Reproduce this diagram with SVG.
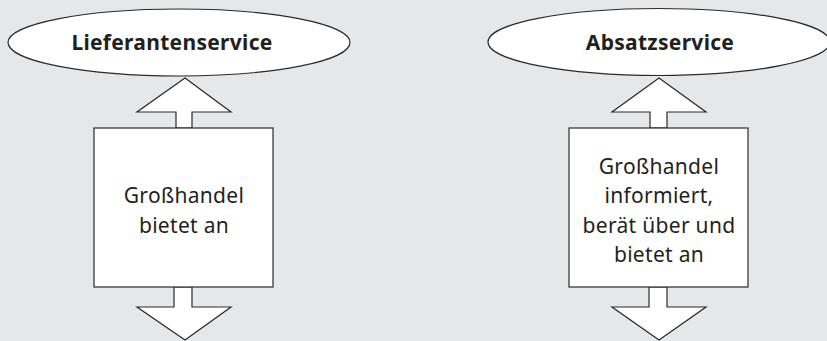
<svg xmlns="http://www.w3.org/2000/svg" width="827" height="341" viewBox="0 0 827 341">
<style>
.shape{fill:#fff;stroke:#2a2a2a;stroke-width:1.2}
.title{font-family:"Noto Sans","Open Sans",sans-serif;font-size:21px;font-weight:bold;fill:#231f20;text-anchor:middle;letter-spacing:0.3px}
.body{font-family:"Noto Sans","Open Sans",sans-serif;font-size:21px;fill:#231f20;text-anchor:middle;letter-spacing:0.3px}
</style>
<rect width="827" height="341" fill="#e6e7e8"/>
<g id="lieferantenservice">
<ellipse class="shape" cx="179" cy="42.5" rx="171" ry="33.5"/>
<text class="title" x="172" y="50">Lieferantenservice</text>
</g>
<g id="absatzservice">
<ellipse class="shape" cx="659" cy="42" rx="171" ry="33.5"/>
<text class="title" x="660" y="50">Absatzservice</text>
</g>
<g id="connectors">
<polygon class="shape" points="185,78 231,112 192,112 192,128 176,128 176,112 137,112"/>
<polygon class="shape" points="174,287 192,287 192,307 231,307 185,340 137,307 174,307"/>
<polygon class="shape" points="659,78 706,112 667,112 667,128 650,128 650,112 612,112"/>
<polygon class="shape" points="649,287 667,287 667,307 706,307 659,340 612,307 649,307"/>
</g>
<g id="box-left">
<rect class="shape" x="94" y="128" width="179" height="159"/>
<text class="body" x="184" y="203">Großhandel</text>
<text class="body" x="184" y="233">bietet an</text>
</g>
<g id="box-right">
<rect class="shape" x="569" y="128" width="179" height="159"/>
<text class="body" x="659" y="174">Großhandel</text>
<text class="body" x="659" y="203">informiert,</text>
<text class="body" x="659" y="233">berät über und</text>
<text class="body" x="659" y="262">bietet an</text>
</g>
</svg>
